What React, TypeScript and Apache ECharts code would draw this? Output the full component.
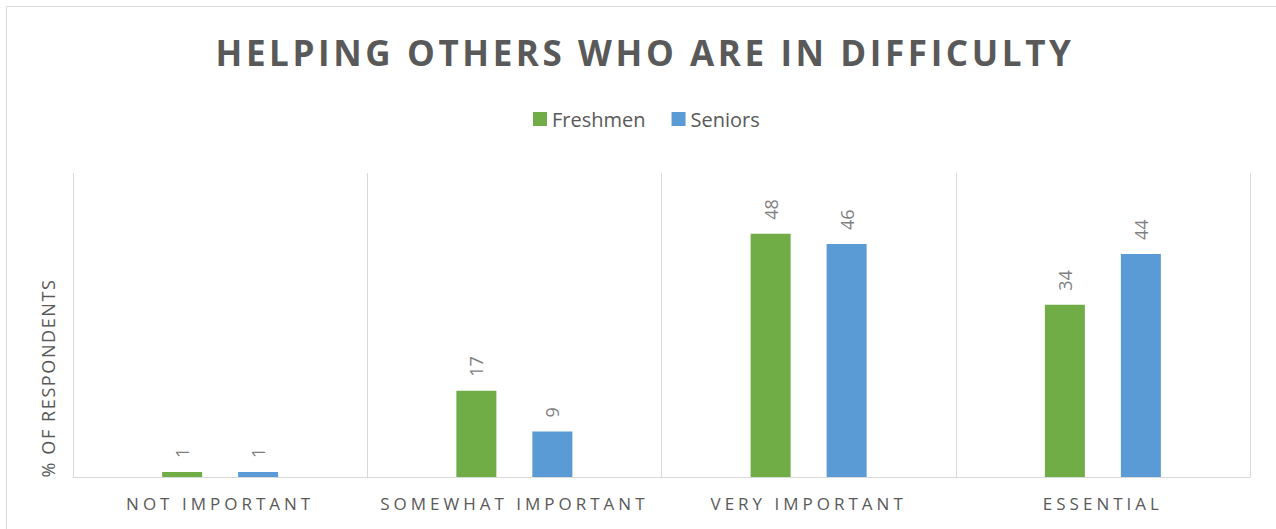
import React, { useEffect, useRef } from "react";
import * as echarts from "echarts";

const categories = ["NOT IMPORTANT", "SOMEWHAT IMPORTANT", "VERY IMPORTANT", "ESSENTIAL"];
const seriesNames = ["Freshmen", "Seniors"];
const freshmen = [1, 17, 48, 34];
const seniors = [1, 9, 46, 44];
const chartTitle = "HELPING OTHERS WHO ARE IN DIFFICULTY";
const yAxisTitle = "% OF RESPONDENTS";
const yMin = 0;
const yMax = 60;

const FONT = "'Open Sans', 'Noto Sans', sans-serif";

export default function App() {
  const ref = useRef<HTMLDivElement>(null);
  useEffect(() => {
    document.body.style.margin = "0";
    const el = ref.current!;
    const chart = echarts.init(el, null, { renderer: "svg" });
    const labelCfg = {
      show: true,
      position: "top",
      rotate: 90,
      align: "left",
      verticalAlign: "middle",
      distance: 14,
      fontSize: 18,
      fontFamily: FONT,
      color: "#7F7F7F",
    };
    chart.setOption({
      animation: false,
      backgroundColor: "#FFFFFF",
      title: {
        text: chartTitle,
        left: 645,
        top: 35,
        padding: 0,
        textAlign: "center",
        textStyle: { fontFamily: FONT, fontWeight: "bold", fontSize: 35, color: "#595959" },
      },
      legend: {
        data: seriesNames,
        left: 533,
        top: 109,
        padding: 0,
        icon: "rect",
        itemWidth: 14,
        itemHeight: 14,
        itemGap: 26,
        textStyle: { fontFamily: FONT, fontSize: 20, color: "#595959" },
      },
      grid: { left: 73, right: 26, top: 173, bottom: 52, containLabel: false },
      xAxis: {
        type: "category",
        data: categories,
        axisLine: { show: true, lineStyle: { color: "#D9D9D9", width: 1 } },
        axisTick: { show: false },
        splitLine: { show: true, lineStyle: { color: "#D9D9D9", width: 1 } },
        axisLabel: { interval: 0, color: "#595959", fontSize: 17, fontFamily: FONT, margin: 18 },
      },
      yAxis: {
        type: "value",
        min: yMin,
        max: yMax,
        axisLine: { show: false },
        axisTick: { show: false },
        axisLabel: { show: false },
        splitLine: { show: false },
      },
      series: [
        {
          name: seriesNames[0],
          type: "bar",
          data: freshmen,
          barWidth: 40,
          barGap: "90%",
          itemStyle: { color: "#70AD47" },
          label: labelCfg,
        },
        {
          name: seriesNames[1],
          type: "bar",
          data: seniors,
          barWidth: 40,
          barGap: "90%",
          itemStyle: { color: "#5B9BD5" },
          label: labelCfg,
        },
      ],
      graphic: [
        {
          type: "rect",
          silent: true,
          z: -10,
          shape: { x: 6.5, y: 6.5, width: 1400, height: 700 },
          style: { fill: "none", stroke: "#D9D9D9", lineWidth: 1 },
        },
        {
          type: "text",
          x: 48,
          y: 378,
          rotation: Math.PI / 2,
          style: {
            text: yAxisTitle,
            fontSize: 18,
            fontFamily: FONT,
            fill: "#595959",
            textAlign: "center",
            textVerticalAlign: "middle",
          },
        },
      ],
    });
    const applySpacing = () => {
      el.querySelectorAll("text").forEach((t) => {
        const s = (t.textContent || "").trim();
        const st = (t as unknown as HTMLElement).style;
        if (s === chartTitle) st.letterSpacing = "3.6px";
        else if (categories.includes(s)) st.letterSpacing = "4px";
        else if (s === yAxisTitle) st.letterSpacing = "1.6px";
      });
    };
    applySpacing();
    chart.on("finished", applySpacing);
    const tm = setTimeout(applySpacing, 50);
    return () => {
      clearTimeout(tm);
      chart.dispose();
    };
  }, []);
  return <div ref={ref} style={{ width: 1276, height: 529 }} />;
}
